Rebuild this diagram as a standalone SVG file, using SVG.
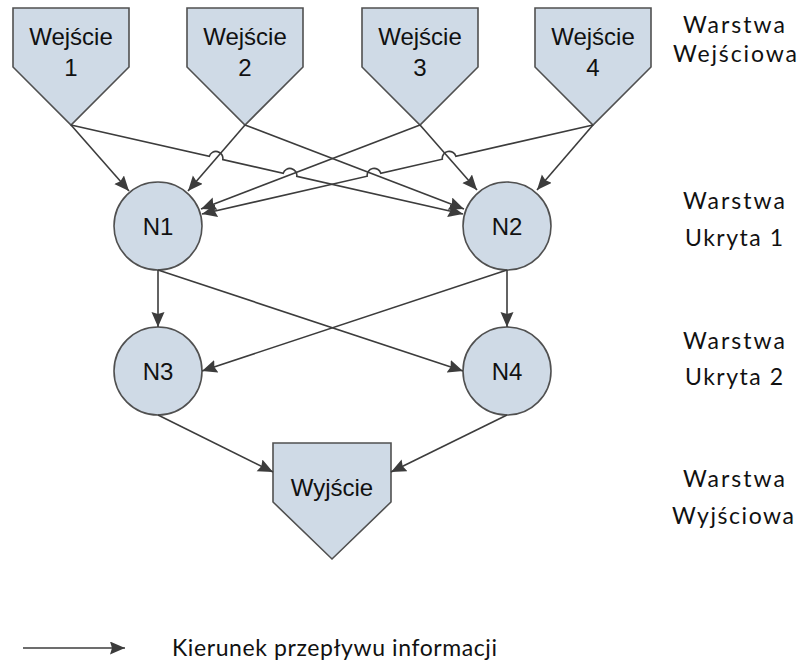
<svg xmlns="http://www.w3.org/2000/svg" width="800" height="661" viewBox="0 0 800 661">
  <style>
    .shape { fill: #cfdae6; stroke: #505050; stroke-width: 1.6; }
    .lbl { font-family: "Liberation Sans", Arial, sans-serif; font-size: 24px; fill: #111; text-anchor: middle; }
    .layer { font-family: Lato, "Open Sans", sans-serif; font-size: 23px; fill: #111; text-anchor: middle; }
    .conn { fill: none; stroke: #3c3c3c; stroke-width: 1.6; marker-end: url(#arrow); }
  </style>
  <defs>
    <marker id="arrow" markerUnits="userSpaceOnUse" markerWidth="17" markerHeight="14" refX="15" refY="6.5" orient="auto">
      <path d="M0,0 L15,6.5 L0,13 L2,6.5 z" fill="#3c3c3c"/>
    </marker>
  </defs>
  <rect width="800" height="661" fill="#ffffff"/>

  <!-- input layer -->
  <g id="in1">
    <polygon class="shape" points="13,8 129,8 129,67 71,125 13,67"/>
    <text class="lbl" x="71" y="45">Wejście</text>
    <text class="lbl" x="71" y="76">1</text>
  </g>
  <g id="in2">
    <polygon class="shape" points="187,8 303,8 303,67 245,125 187,67"/>
    <text class="lbl" x="245" y="45">Wejście</text>
    <text class="lbl" x="245" y="76">2</text>
  </g>
  <g id="in3">
    <polygon class="shape" points="362,8 478,8 478,67 420,125 362,67"/>
    <text class="lbl" x="420" y="45">Wejście</text>
    <text class="lbl" x="420" y="76">3</text>
  </g>
  <g id="in4">
    <polygon class="shape" points="535,8 651,8 651,67 593,125 535,67"/>
    <text class="lbl" x="593" y="45">Wejście</text>
    <text class="lbl" x="593" y="76">4</text>
  </g>

  <!-- hidden layers -->
  <g id="n1">
    <circle class="shape" cx="158" cy="226" r="44"/>
    <text class="lbl" x="158" y="235">N1</text>
  </g>
  <g id="n2">
    <circle class="shape" cx="507" cy="226" r="44"/>
    <text class="lbl" x="507" y="235">N2</text>
  </g>
  <g id="n3">
    <circle class="shape" cx="158" cy="371" r="44"/>
    <text class="lbl" x="158" y="380">N3</text>
  </g>
  <g id="n4">
    <circle class="shape" cx="507" cy="371" r="44"/>
    <text class="lbl" x="507" y="380">N4</text>
  </g>

  <!-- output layer -->
  <g id="out">
    <polygon class="shape" points="273,443 391,443 391,502 332,559 273,502"/>
    <text class="lbl" x="332" y="496">Wyjście</text>
  </g>

  <!-- connectors (line jumps where crossing) -->
  <g id="connectors">
    <path class="conn" d="M71,125 L129,191"/>
    <path class="conn" d="M245,125 L188,191"/>
    <path class="conn" d="M420,125 L201,209"/>
    <path class="conn" d="M593,125 L455.9,156.2 A7,7 0 0 0 442.3,159.2 L380.8,173.2 A7,7 0 0 0 367.2,176.2 L202,214"/>
    <path class="conn" d="M71,125 L209.2,156.4 A7,7 0 0 1 222.8,159.6 L283.2,173.3 A7,7 0 0 1 296.8,176.4 L463,214"/>
    <path class="conn" d="M245,125 L464,209"/>
    <path class="conn" d="M420,125 L477,190"/>
    <path class="conn" d="M593,125 L537,190"/>
    <path class="conn" d="M158,270 L158,327"/>
    <path class="conn" d="M507,270 L507,327"/>
    <path class="conn" d="M158,270 L463,371"/>
    <path class="conn" d="M507,270 L202,371"/>
    <path class="conn" d="M158,415 L273,472"/>
    <path class="conn" d="M507,415 L391,472"/>
  </g>

  <!-- layer captions -->
  <g id="captions">
    <text class="layer" x="734" y="33" textLength="102" lengthAdjust="spacing">Warstwa</text>
    <text class="layer" x="735" y="62" textLength="124" lengthAdjust="spacing">Wejściowa</text>
    <text class="layer" x="734" y="209" textLength="102" lengthAdjust="spacing">Warstwa</text>
    <text class="layer" x="734" y="246" textLength="98" lengthAdjust="spacing">Ukryta 1</text>
    <text class="layer" x="734" y="349" textLength="102" lengthAdjust="spacing">Warstwa</text>
    <text class="layer" x="734" y="385" textLength="98" lengthAdjust="spacing">Ukryta 2</text>
    <text class="layer" x="734" y="487" textLength="102" lengthAdjust="spacing">Warstwa</text>
    <text class="layer" x="733" y="524" textLength="122" lengthAdjust="spacing">Wyjściowa</text>
  </g>

  <!-- legend -->
  <g id="legend">
    <path class="conn" d="M23,648 L125,648"/>
    <text x="172" y="656" font-family="Lato, 'Open Sans', sans-serif" font-size="23" fill="#111" textLength="325" lengthAdjust="spacing">Kierunek przepływu informacji</text>
  </g>
</svg>
